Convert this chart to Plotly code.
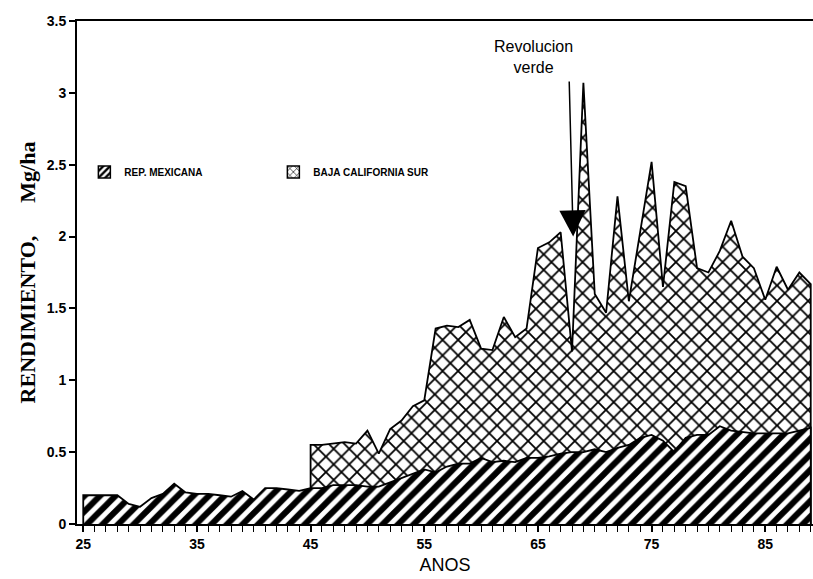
import plotly.graph_objects as go

# Yields (Mg/ha) by year, 1925-1989
years_mex = list(range(25, 90))
rend_mex = [0.20, 0.20, 0.20, 0.20, 0.14, 0.12, 0.18, 0.21, 0.28, 0.22,
            0.21, 0.21, 0.20, 0.19, 0.23, 0.17, 0.25, 0.25, 0.24, 0.23,
            0.25, 0.25, 0.27, 0.27, 0.27, 0.26, 0.26, 0.29, 0.32, 0.35,
            0.38, 0.36, 0.40, 0.42, 0.42, 0.46, 0.43, 0.44, 0.43, 0.46,
            0.46, 0.47, 0.49, 0.50, 0.50, 0.52, 0.50, 0.53, 0.55, 0.60,
            0.62, 0.58, 0.50, 0.60, 0.62, 0.62, 0.68, 0.65, 0.64, 0.63,
            0.63, 0.63, 0.63, 0.65, 0.67]

years_bcs = list(range(45, 90))
rend_bcs = [0.55, 0.55, 0.56, 0.57, 0.56, 0.65, 0.49, 0.66, 0.72, 0.82,
            0.86, 1.36, 1.38, 1.37, 1.42, 1.22, 1.21, 1.44, 1.30, 1.36,
            1.92, 1.96, 2.03, 1.20, 3.07, 1.60, 1.47, 2.28, 1.55, 2.05,
            2.52, 1.65, 2.38, 2.35, 1.78, 1.75, 1.90, 2.11, 1.86, 1.78,
            1.56, 1.79, 1.63, 1.75, 1.67]

x_ticks = [25, 35, 45, 55, 65, 75, 85]
y_ticks = [0, 0.5, 1, 1.5, 2, 2.5, 3, 3.5]

series_names = ["REP. MEXICANA", "BAJA CALIFORNIA SUR"]
hatch = {
    "REP. MEXICANA": dict(shape="/", size=11, solidity=0.55),
    "BAJA CALIFORNIA SUR": dict(shape="x", size=11, solidity=0.3),
}
legend_hatch = {
    "REP. MEXICANA": dict(shape="/", size=6, solidity=0.5),
    "BAJA CALIFORNIA SUR": dict(shape="x", size=6, solidity=0.25),
}


def closed_area(xs, ys):
    """Close an area polygon down to the baseline at both ends."""
    return [xs[0]] + xs + [xs[-1]], [0] + ys + [0]


fig = go.Figure()

# Areas: Baja California Sur behind, national average in front
for name, xs, ys in [(series_names[1], years_bcs, rend_bcs),
                     (series_names[0], years_mex, rend_mex)]:
    px_, py_ = closed_area(xs, ys)
    fig.add_trace(go.Scatter(
        x=px_, y=py_, mode="lines", fill="toself", name=name,
        showlegend=False,
        line=dict(color="black", width=1.8),
        fillcolor="white",
        fillpattern=dict(fgcolor="black", bgcolor="white", fgopacity=1,
                         **hatch[name]),
    ))

# Boxed legend keys
for rank, name in enumerate(series_names, start=1):
    fig.add_trace(go.Bar(
        x=[None], y=[None], name=name, legendrank=rank, showlegend=True,
        marker=dict(color="white", line=dict(color="black", width=1.5),
                    pattern=dict(fgcolor="black", bgcolor="white",
                                 fgopacity=1, **legend_hatch[name])),
    ))

# "Revolucion verde" marker
fig.add_annotation(x=64.6, y=3.25, xref="x", yref="y",
                   text="Revolucion<br>verde", showarrow=False,
                   font=dict(family="Liberation Sans", size=16, color="black"))
fig.add_annotation(x=68.1, y=2.0, ax=67.75, ay=3.09,
                   xref="x", yref="y", axref="x", ayref="y",
                   text="", showarrow=True, arrowhead=2, arrowsize=3.5,
                   arrowwidth=1.5, arrowcolor="black")

tick_font = dict(family="Liberation Sans", size=14, color="black", weight="bold")
nb = "\u00a0"

fig.update_layout(
    width=813, height=579,
    margin=dict(l=77, r=0, t=21, b=55),
    paper_bgcolor="white", plot_bgcolor="white",
    showlegend=True,
    legend=dict(orientation="h", x=0.01, y=0.70, xanchor="left", yanchor="middle",
                entrywidth=144, entrywidthmode="pixels",
                font=dict(family="Liberation Sans", size=10, color="black",
                          weight="bold"),
                bgcolor="rgba(0,0,0,0)"),
    xaxis=dict(range=[24.45, 89.2], tickvals=x_ticks, ticks="outside",
               ticklen=6, tickwidth=1.5, tickcolor="black",
               minor=dict(dtick=1, tick0=25, ticks="outside", ticklen=6,
                          tickwidth=1.2, tickcolor="black"),
               showline=True, linecolor="black", linewidth=2, mirror=True,
               showgrid=False, zeroline=False, tickfont=tick_font,
               title=dict(text="ANOS", standoff=8,
                          font=dict(family="Liberation Sans", size=18, color="black"))),
    yaxis=dict(range=[0, 3.5], tickvals=y_ticks, ticks="outside",
               ticklen=6, tickwidth=1.5, tickcolor="black",
               showline=True, linecolor="black", linewidth=2,
               showgrid=False, zeroline=False, tickfont=tick_font,
               title=dict(text="RENDIMIENTO," + nb * 6 + "Mg/ha", standoff=5,
                          font=dict(family="Liberation Serif", size=22, color="black",
                                    weight="bold"))),
)

fig.write_html("out.html")
